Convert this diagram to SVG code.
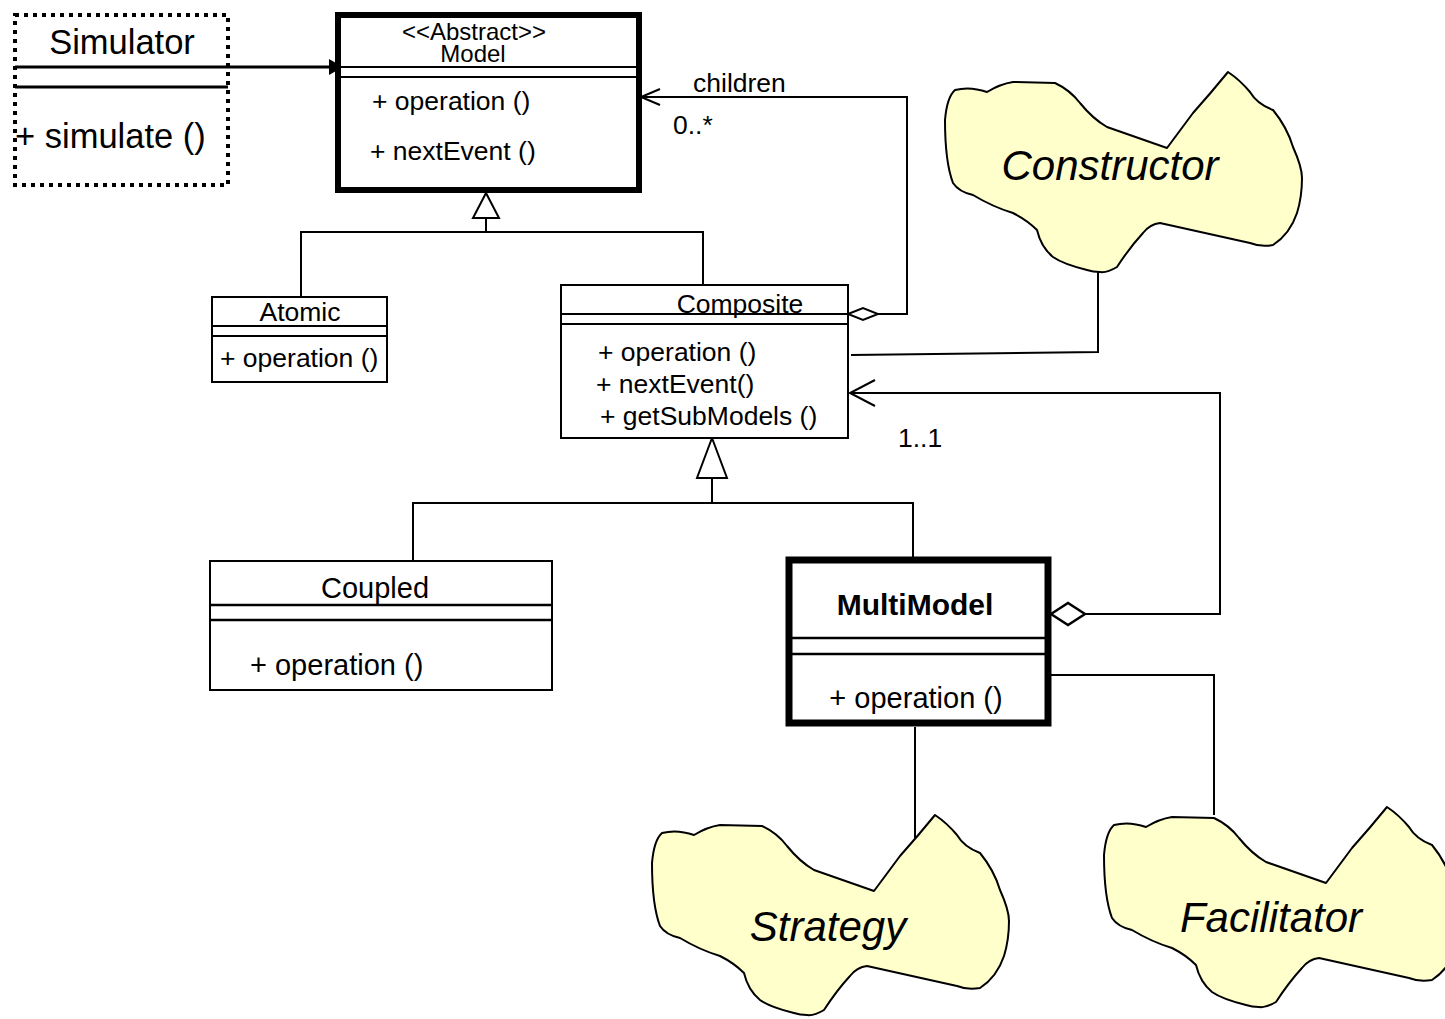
<svg xmlns="http://www.w3.org/2000/svg" width="1445" height="1019" viewBox="0 0 1445 1019">
  <style>
    text { font-family: "Liberation Sans", Arial, sans-serif; fill: #000; }
    .box { fill: #fff; stroke: #000; stroke-width: 2; }
    .sep { stroke: #000; stroke-width: 2; }
    .wire { fill: none; stroke: #000; stroke-width: 2; }
    .cloud { fill: #ffffcc; stroke: #000; stroke-width: 2; stroke-linejoin: round; }
    .cloudtxt { font-style: italic; font-size: 42px; text-anchor: middle; }
    .t26 { font-size: 26.5px; }
  </style>
  <defs>
    <path id="blob" d="M10,18 Q25,14 42,20 Q55,12 68,10 L110,11 Q125,18 135,31 Q148,47 162,55 L222,76 L248,41 Q265,22 283,0 Q295,8 305,20 Q312,32 328,38 Q342,55 348,75 Q357,95 357,106 Q357,125 352,141 Q345,162 328,173 Q315,175 305,171 L215,151 Q205,152 198,161 Q185,175 172,195 Q162,201 155,200 Q148,200 142,198 Q118,192 108,185 Q96,175 92,158 Q82,148 68,141 Q48,135 28,123 Q14,120 8,111 Q0,90 0,48 Q2,25 10,18 Z"/>
    <marker id="filled" markerWidth="16" markerHeight="18" refX="14" refY="9" orient="auto" markerUnits="userSpaceOnUse">
      <path d="M0,1 L14,9 L0,17 Z" fill="#000"/>
    </marker>
  </defs>

  <!-- connectors -->
  <g id="connectors">
    <!-- Simulator uses Model -->
    <line x1="230" y1="67" x2="343" y2="67" stroke="#000" stroke-width="3" marker-end="url(#filled)"/>
    <!-- Atomic / Composite generalize Model -->
    <polygon points="486,193 473,218 499,218" fill="#fff" stroke="#000" stroke-width="2"/>
    <polyline class="wire" points="486,218 486,232"/>
    <polyline class="wire" points="301,297 301,232 703,232 703,285"/>
    <!-- children aggregation -->
    <polygon points="848,314 863,308 878,314 863,320" fill="#fff" stroke="#000" stroke-width="2"/>
    <polyline class="wire" points="878,314 907,314 907,97 641,97"/>
    <polyline class="wire" points="660,89 641,97 660,105"/>
    <text class="t26" x="693" y="92">children</text>
    <text class="t26" x="673" y="134">0..*</text>
    <!-- Constructor link -->
    <polyline class="wire" points="851,355 1098,352 1098,270"/>
    <!-- Coupled / MultiModel generalize Composite -->
    <polygon points="712,438 697,478 727,478" fill="#fff" stroke="#000" stroke-width="2"/>
    <polyline class="wire" points="712,478 712,503"/>
    <polyline class="wire" points="413,560 413,503 913,503 913,560"/>
    <!-- MultiModel aggregation back to Composite -->
    <polygon points="1051,614 1068,603 1085,614 1068,625" fill="#fff" stroke="#000" stroke-width="2.5"/>
    <polyline class="wire" points="1085,614 1220,614 1220,393 850,393"/>
    <polyline class="wire" points="875,380 850,393 875,406"/>
    <text class="t26" x="898" y="447">1..1</text>
    <!-- Facilitator / Strategy links -->
    <polyline class="wire" points="1051,675 1214,675 1214,815"/>
    <line class="wire" x1="915" y1="727" x2="915" y2="838"/>
  </g>

  <!-- Simulator -->
  <g id="simulator">
    <rect x="15" y="15" width="213" height="170" fill="#fff" stroke="#000" stroke-width="4" stroke-dasharray="4 5"/>
    <line x1="15" y1="67" x2="230" y2="67" stroke="#000" stroke-width="3"/>
    <line x1="15" y1="87" x2="228" y2="87" stroke="#000" stroke-width="3"/>
    <text x="122" y="54" font-size="34.5" text-anchor="middle">Simulator</text>
    <text x="15" y="148" font-size="34.5">+ simulate ()</text>
  </g>

  <!-- Model -->
  <g id="model">
    <rect x="338" y="15" width="301" height="175" fill="#fff" stroke="#000" stroke-width="6"/>
    <line class="sep" x1="338" y1="67" x2="639" y2="67"/>
    <line class="sep" x1="338" y1="77" x2="639" y2="77"/>
    <text x="474" y="40" font-size="24" text-anchor="middle">&lt;&lt;Abstract&gt;&gt;</text>
    <text x="473" y="62" font-size="24" text-anchor="middle">Model</text>
    <text class="t26" x="372" y="110">+ operation ()</text>
    <text class="t26" x="370" y="160">+ nextEvent ()</text>
  </g>

  <!-- Atomic -->
  <g id="atomic">
    <rect class="box" x="212" y="297" width="175" height="85"/>
    <line class="sep" x1="212" y1="326" x2="387" y2="326"/>
    <line class="sep" x1="212" y1="336" x2="387" y2="336"/>
    <text class="t26" x="300" y="321" text-anchor="middle">Atomic</text>
    <text class="t26" x="220" y="367">+ operation ()</text>
  </g>

  <!-- Composite -->
  <g id="composite">
    <rect class="box" x="561" y="285" width="287" height="153"/>
    <line class="sep" x1="561" y1="314" x2="848" y2="314"/>
    <line class="sep" x1="561" y1="324" x2="848" y2="324"/>
    <text class="t26" x="740" y="313" text-anchor="middle">Composite</text>
    <text class="t26" x="598" y="361">+ operation ()</text>
    <text class="t26" x="596" y="393">+ nextEvent()</text>
    <text class="t26" x="600" y="425">+ getSubModels ()</text>
  </g>

  <!-- Coupled -->
  <g id="coupled">
    <rect class="box" x="210" y="561" width="342" height="129"/>
    <line x1="210" y1="605" x2="552" y2="605" stroke="#000" stroke-width="2.5"/>
    <line x1="210" y1="620" x2="552" y2="620" stroke="#000" stroke-width="2.5"/>
    <text x="375" y="598" font-size="29" text-anchor="middle">Coupled</text>
    <text x="250" y="675" font-size="29">+ operation ()</text>
  </g>

  <!-- MultiModel -->
  <g id="multimodel">
    <rect x="789" y="560" width="259" height="163" fill="#fff" stroke="#000" stroke-width="7"/>
    <line x1="789" y1="638" x2="1048" y2="638" stroke="#000" stroke-width="2.5"/>
    <line x1="789" y1="654" x2="1048" y2="654" stroke="#000" stroke-width="2.5"/>
    <text x="915" y="615" font-size="30" font-weight="bold" text-anchor="middle">MultiModel</text>
    <text x="916" y="708" font-size="29" text-anchor="middle">+ operation ()</text>
  </g>

  <!-- Constructor -->
  <g id="constructor">
    <use href="#blob" class="cloud" x="945" y="72"/>
    <text class="cloudtxt" x="1110" y="180">Constructor</text>
  </g>

  <!-- Strategy -->
  <g id="strategy">
    <use href="#blob" class="cloud" x="652" y="815"/>
    <text class="cloudtxt" x="828" y="941">Strategy</text>
  </g>

  <!-- Facilitator -->
  <g id="facilitator">
    <use href="#blob" class="cloud" x="1104" y="807"/>
    <text class="cloudtxt" x="1271" y="932">Facilitator</text>
  </g>
</svg>
